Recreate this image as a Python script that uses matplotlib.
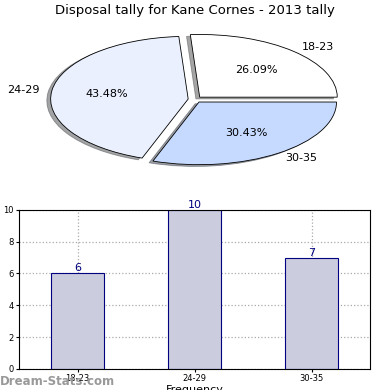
import matplotlib
matplotlib.use("Agg")
import matplotlib.pyplot as plt

categories = ["18-23", "24-29", "30-35"]
tally = [6, 10, 7]
pie_colors = ["#ffffff", "#eaf0fe", "#c6d9fe"]

fig = plt.figure(figsize=(3.9, 3.9), dpi=100)

# pie on top, squashed into an ellipse
axp = fig.add_axes([0.105, 0.565, 0.79, 0.36])
wedges, texts, autotexts = axp.pie(
    tally, labels=categories, colors=pie_colors, startangle=0,
    explode=[0.05, 0.05, 0.05], shadow=True, autopct="%.2f%%",
    pctdistance=0.6, labeldistance=1.09,
    wedgeprops={"edgecolor": "black", "linewidth": 0.6},
    textprops={"fontsize": 8})
axp.set_aspect("auto")
axp.set_xlim(-1.12, 1.12)
axp.set_ylim(-1.12, 1.12)
fig.text(0.5, 0.972, "Disposal tally for Kane Cornes - 2013 tally",
         ha="center", va="center", fontsize=9.5)

# bar chart below
axb = fig.add_axes([0.049, 0.054, 0.900, 0.408])
x = range(len(categories))
bars = axb.bar(x, tally, width=0.45, color="#ccccdf", edgecolor="#000080",
               linewidth=0.8, zorder=2)
for xi, v in zip(x, tally):
    axb.text(xi, v, str(v), ha="center", va="bottom", color="#000080",
             fontsize=8, zorder=3)
axb.set_xlim(-0.5, 2.5)
axb.set_ylim(0, 10)
axb.set_xticks(list(x))
axb.set_xticklabels(categories)
axb.set_yticks([0, 2, 4, 6, 8, 10])
axb.tick_params(labelsize=6, length=2, pad=2)
axb.grid(True, linestyle=":", color="#aaaaaa", linewidth=0.9, zorder=0)
axb.set_xlabel("Frequency", fontsize=8, labelpad=1)
axb.set_ylabel("Disposal Tally", fontsize=8, labelpad=2)

fig.text(0.0, 0.022, "Dream-Stats.com", color="#999999", fontsize=8.5,
         fontweight="bold", ha="left", va="center")

fig.savefig("out.png", dpi=100)
